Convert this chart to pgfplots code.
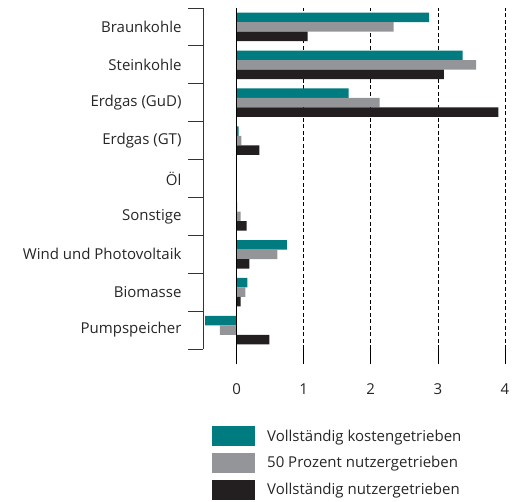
\documentclass[border=0pt]{standalone}
\usepackage{pgfplots}
\pgfplotsset{compat=1.18}
\usepackage{fontspec}
\setmainfont{Open Sans}
\definecolor{kosten}{HTML}{007B80}
\definecolor{halb}{HTML}{939598}
\definecolor{nutzer}{HTML}{231F20}

\begin{document}
\begin{tikzpicture}[x=1pt,y=1pt]
\path[use as bounding box] (0,0) rectangle (516,501);
\begin{axis}[
  at={(203pt,152pt)}, anchor=south west,
  scale only axis, width=302pt, height=341pt,
  xbar, bar width=9.5pt,
  xmin=-0.5, xmax=4, ymin=-0.5, ymax=8.5,
  axis line style={draw=none},
  tick align=outside, xtick pos=bottom, ytick pos=left,
  xtick={0,1,2,3,4},
  major tick length=15pt, minor tick length=15pt,
  xmajorgrids, grid style={black, line width=0.7pt, dash pattern=on 4pt off 2.5pt},
  major x tick style={black, line width=0.7pt},
  ytick={0,...,8},
  yticklabels={Pumpspeicher, Biomasse, Wind und Photovoltaik, Sonstige, Öl,
    Erdgas (GT), Erdgas (GuD), Steinkohle, Braunkohle},
  minor ytick={-0.5,0.5,...,8.5},
  major y tick style={draw=none},
  minor y tick style={draw=black!80, line width=0.8pt},
  tick label style={font=\fontsize{15}{17}\selectfont, black!85},
  yticklabel style={xshift=-3pt},
  xticklabel style={yshift=-16pt, /pgf/number format/assume math mode=true},
  legend style={at={(rel axis cs:0.0298,-0.226)}, anchor=north west, draw=none, fill=none,
    inner sep=0pt, row sep=6.7pt, font=\fontsize{15}{17}\selectfont, text=black!85,
    /tikz/every odd column/.append style={column sep=10pt}},
  legend cell align=left,
  legend image code/.code={\fill (0pt,-10pt) rectangle (43pt,10pt);},
]
\addplot[fill=kosten, draw=none, bar shift=9.5pt] coordinates {
  (2.87,8) (3.37,7) (1.67,6) (0.03,5) (0,4) (0.01,3) (0.75,2) (0.16,1) (-0.47,0)};
\addplot[fill=halb, draw=none, bar shift=0pt] coordinates {
  (2.34,8) (3.57,7) (2.13,6) (0.07,5) (0,4) (0.06,3) (0.61,2) (0.13,1) (-0.25,0)};
\addplot[fill=nutzer, draw=none, bar shift=-9.5pt] coordinates {
  (1.06,8) (3.09,7) (3.90,6) (0.34,5) (0,4) (0.15,3) (0.19,2) (0.06,1) (0.49,0)};
\legend{Vollständig kostengetrieben, 50 Prozent nutzergetrieben, Vollständig nutzergetrieben}
\draw[black, line width=0.8pt] (axis cs:0,-0.5) -- (axis cs:0,8.5);
\draw[black!80, line width=0.8pt] (rel axis cs:0,0) -- (rel axis cs:0,1);
\end{axis}
\end{tikzpicture}
\end{document}
